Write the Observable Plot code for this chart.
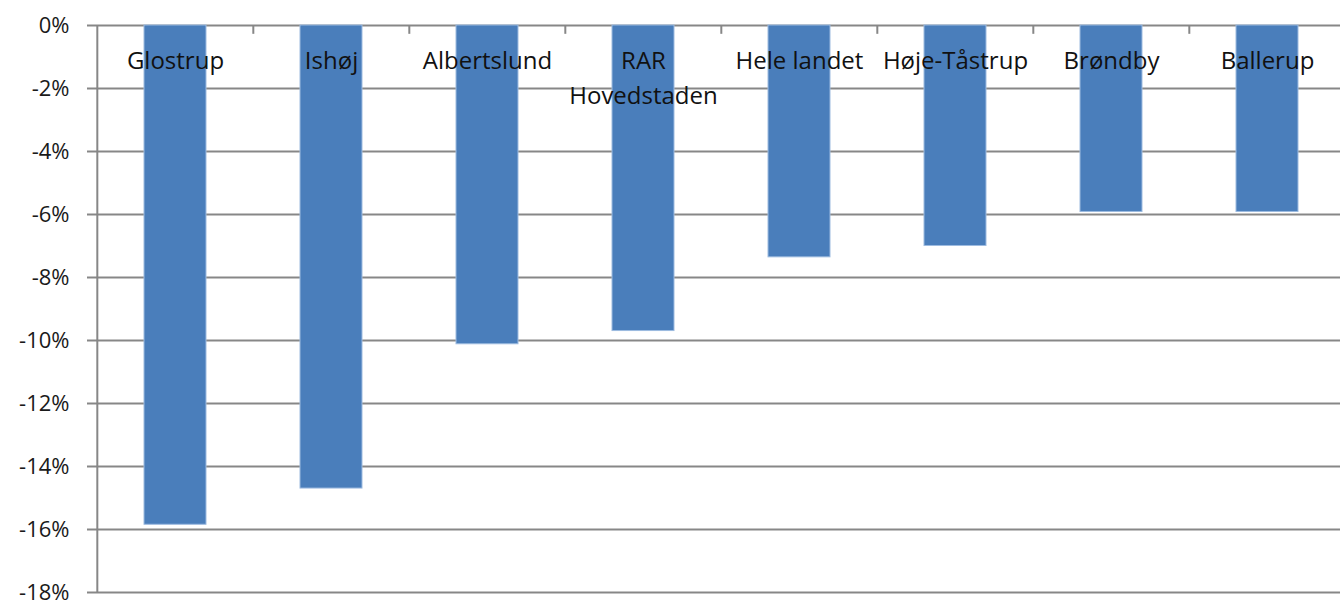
<!DOCTYPE html>
<html>
<head>
<meta charset="utf-8">
<script src="https://cdn.jsdelivr.net/npm/d3@7"></script>
<script src="https://cdn.jsdelivr.net/npm/@observablehq/plot@0.6"></script>
<style>
  html, body { margin: 0; padding: 0; background: #fff; }
  #chart svg { display: block; }
</style>
</head>
<body>
<div id="chart"></div>
<script>
const categories = ["Glostrup", "Ishøj", "Albertslund", "RAR Hovedstaden", "Hele landet", "Høje-Tåstrup", "Brøndby", "Ballerup"];
const labels = ["Glostrup", "Ishøj", "Albertslund", "RAR\nHovedstaden", "Hele landet", "Høje-Tåstrup", "Brøndby", "Ballerup"];
const values = [-15.85, -14.7, -10.12, -9.7, -7.36, -7.0, -5.92, -5.92];
const yTicks = [0, -2, -4, -6, -8, -10, -12, -14, -16, -18];

const data = categories.map((c, i) => ({cat: c, label: labels[i], value: values[i]}));

const W = 1340, H = 602;
const xRange = [95.5, 1346.5];
const step = (xRange[1] - xRange[0]) / categories.length;
const grey = "#878787";

const chart = Plot.plot({
  width: W,
  height: H,
  marginTop: 25,
  marginBottom: 10,
  marginLeft: 96,
  marginRight: 0,
  style: {fontFamily: "'Open Sans', sans-serif", fontSize: "22px", color: "#1a1a1a", background: "#fff", overflow: "visible"},
  x: {domain: categories, range: xRange, paddingInner: 0.6, paddingOuter: 0.3, axis: null},
  y: {domain: [-18, 0], axis: null},
  marks: [
    Plot.ruleY(yTicks, {stroke: grey, strokeWidth: 2}),
    Plot.ruleX(categories.slice(1), {x: d => d, dx: -step / 2, y1: 0, y2: -0.28, stroke: grey, strokeWidth: 2}),
    Plot.ruleX(categories.slice(0, 1), {x: d => d, dx: -step / 2, y1: -18, y2: 0, stroke: grey, strokeWidth: 2}),
    Plot.axisY({ticks: yTicks, tickFormat: d => `${d}%`, tickSize: 9, tickPadding: 18, stroke: grey, strokeWidth: 2, fill: "#1a1a1a", fontSize: 22, label: null}),
    Plot.barY(data, {x: "cat", y: "value", fill: "#4a7ebb", stroke: "#9dbbe0", strokeWidth: 1}),
    Plot.text(data, {x: "cat", text: "label", frameAnchor: "top", lineAnchor: "top", dy: 19, fontSize: 24, fill: "#111", lineHeight: 1.45})
  ]
});
document.getElementById("chart").appendChild(chart);
</script>
</body>
</html>
